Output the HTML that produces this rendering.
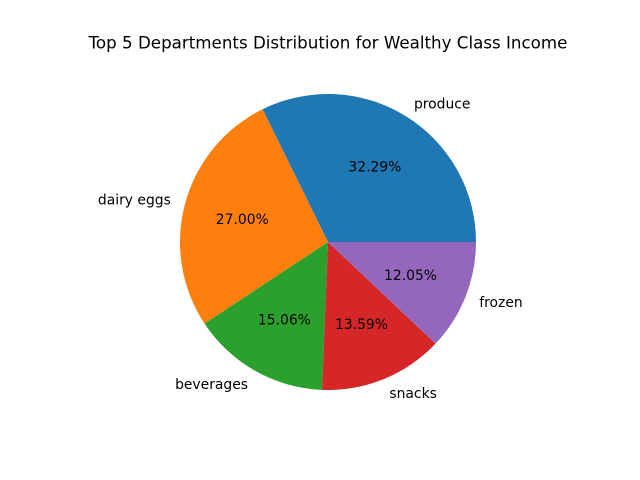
<!DOCTYPE html>
<html><head><meta charset="utf-8"><style>body{margin:0;background:#fff}svg{display:block;font-family:"DejaVu Sans","Liberation Sans",sans-serif}</style></head>
<body>
<svg id="chart" width="640" height="480" viewBox="0 0 640 480">
<text x="328" y="44" text-anchor="middle" dominant-baseline="middle" font-size="16.7">Top 5 Departments Distribution for Wealthy Class Income</text>
<g id="slices"></g>
</svg>
<script>
const categories = ["produce","dairy eggs","beverages","snacks","frozen"];
const values = [32.29, 27.00, 15.06, 13.59, 12.05];
const colors = ["#1f77b4","#ff7f0e","#2ca02c","#d62728","#9467bd"];
const cx = 328, cy = 242, R = 148;
const g = document.getElementById('slices');
const NS = 'http://www.w3.org/2000/svg';
const total = values.reduce((a,b)=>a+b,0);
let a0 = 0;
function pt(a, r){ return [cx + r*Math.cos(a), cy - r*Math.sin(a)]; }
values.forEach((v,i)=>{
  const a1 = a0 + v/total*2*Math.PI;
  const [x0,y0] = pt(a0,R), [x1,y1] = pt(a1,R);
  const p = document.createElementNS(NS,'path');
  p.setAttribute('d', `M${cx},${cy} L${x0},${y0} A${R},${R} 0 ${a1-a0>Math.PI?1:0} 0 ${x1},${y1} Z`);
  p.setAttribute('fill', colors[i]);
  
  
  g.appendChild(p);
  const am = (a0+a1)/2;
  const [lx,ly] = pt(am, R*1.1);
  const t = document.createElementNS(NS,'text');
  t.setAttribute('x', lx); t.setAttribute('y', ly+1);
  t.setAttribute('text-anchor', Math.cos(am) >= 0 ? 'start' : 'end');
  t.setAttribute('dominant-baseline','middle');
  t.setAttribute('font-size','13.9');
  t.textContent = categories[i];
  
  
  g.appendChild(t);
  const [px,py] = pt(am, R*0.6);
  const q = document.createElementNS(NS,'text');
  q.setAttribute('x', px); q.setAttribute('y', py+1);
  q.setAttribute('text-anchor','middle');
  q.setAttribute('dominant-baseline','middle');
  q.setAttribute('font-size','13.9');
  q.textContent = (v/total*100).toFixed(2) + '%';
  
  
  g.appendChild(q);
  a0 = a1;
});
</script>
</body></html>
